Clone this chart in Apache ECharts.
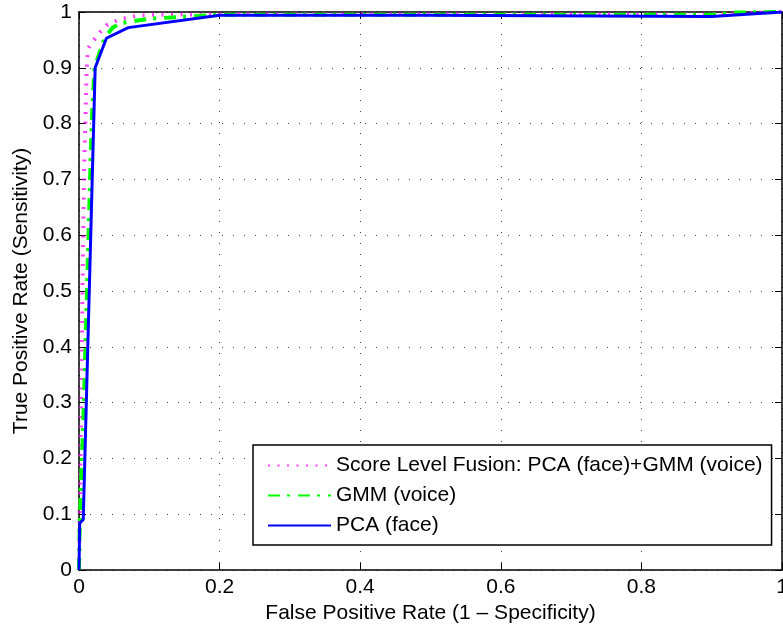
<!DOCTYPE html>
<html>
<head>
<meta charset="utf-8">
<script src="https://cdn.jsdelivr.net/npm/echarts@6/dist/echarts.min.js"></script>
<style>
  html, body { margin: 0; padding: 0; background: #fff; }
  #chart { width: 783px; height: 625px; }
</style>
</head>
<body>
<div id="chart"></div>
<script>
// ROC curves
const fusionFpr = [0, 0.001, 0.003, 0.005, 0.007, 0.009, 0.011, 0.013, 0.02, 0.03, 0.039, 0.058, 0.082, 0.105, 0.2, 0.9, 1];
const fusionTpr = [0, 0.1, 0.3, 0.5, 0.7, 0.8, 0.9, 0.935, 0.948, 0.964, 0.976, 0.987, 0.993, 0.995, 0.996, 0.996, 1];

const gmmFpr = [0, 0.001, 0.002, 0.007, 0.018, 0.022, 0.03, 0.037, 0.048, 0.06, 0.1, 0.2, 0.9, 0.935, 1];
const gmmTpr = [0, 0.08, 0.12, 0.3, 0.8, 0.9, 0.93, 0.955, 0.972, 0.98, 0.988, 0.995, 0.995, 0.999, 1];

const pcaFpr = [0, 0.001, 0.006, 0.023, 0.039, 0.07, 0.2, 0.5, 0.9, 1];
const pcaTpr = [0, 0.084, 0.09, 0.9, 0.953, 0.972, 0.994, 0.994, 0.992, 1];

const seriesNames = ['Score Level Fusion: PCA (face)+GMM (voice)', 'GMM (voice)', 'PCA (face)'];

function pairs(xs, ys) {
  return xs.map((x, i) => [x, ys[i]]);
}

const font = "'Liberation Sans', Arial, Helvetica, sans-serif";
const fs = 21;
const chart = echarts.init(document.getElementById('chart'));

const axisBase = {
  type: 'value',
  min: 0,
  max: 1,
  axisLine: { show: true, onZero: false, lineStyle: { color: '#000', width: 1.5 } },
  axisTick: { show: true, inside: true, length: 7, lineStyle: { color: '#000', width: 1 } },
  minorTick: { show: false }
};

chart.setOption({
  animation: false,
  textStyle: { fontFamily: font },
  grid: { left: 79, right: 1, top: 12, bottom: 55, containLabel: false, outerBoundsMode: 'none' },
  legend: {
    orient: 'vertical',
    left: 253,
    top: 445,
    data: seriesNames,
    itemWidth: 63,
    itemHeight: 20,
    itemGap: 9,
    padding: [10, 9, 9, 14],
    backgroundColor: '#fff',
    borderColor: '#000',
    borderWidth: 1.5,
    borderRadius: 0,
    itemStyle: { opacity: 0 },
    textStyle: { fontSize: fs, color: '#000', fontFamily: font }
  },
  xAxis: [
    Object.assign({}, axisBase, {
      position: 'bottom',
      interval: 0.2,
      name: 'False Positive Rate (1 \u2013 Specificity)',
      nameLocation: 'middle',
      nameGap: 22,
      nameTextStyle: { fontSize: fs, color: '#000' },
      axisLabel: { fontSize: fs, color: '#000', margin: 7 },
      splitLine: { show: true, lineStyle: { color: '#444', width: 1, type: [1, 10] } }
    }),
    Object.assign({}, axisBase, {
      position: 'top',
      interval: 0.2,
      axisLabel: { show: false },
      splitLine: { show: false }
    })
  ],
  yAxis: [
    Object.assign({}, axisBase, {
      position: 'left',
      interval: 0.1,
      name: 'True Positive Rate (Sensitivity)',
      nameLocation: 'middle',
      nameGap: 45,
      nameTextStyle: { fontSize: fs, color: '#000' },
      axisLabel: { fontSize: fs, color: '#000', margin: 7 },
      splitLine: { show: true, lineStyle: { color: '#444', width: 1, type: [1, 10] } }
    }),
    Object.assign({}, axisBase, {
      position: 'right',
      interval: 0.1,
      axisLabel: { show: false },
      splitLine: { show: false }
    })
  ],
  series: [
    {
      name: seriesNames[0],
      type: 'line',
      data: pairs(fusionFpr, fusionTpr),
      symbol: 'none',
      color: '#ff00ff',
      lineStyle: { color: '#ff00ff', width: 4, type: [2, 7.5], opacity: 0.75 }
    },
    {
      name: seriesNames[1],
      type: 'line',
      data: pairs(gmmFpr, gmmTpr),
      symbol: 'none',
      color: '#00ff00',
      lineStyle: { color: '#00ff00', width: 4, type: [12, 7, 3, 8] }
    },
    {
      name: seriesNames[2],
      type: 'line',
      data: pairs(pcaFpr, pcaTpr),
      symbol: 'none',
      color: '#0000ff',
      lineStyle: { color: '#0000ff', width: 3 }
    }
  ]
});
</script>
</body>
</html>
